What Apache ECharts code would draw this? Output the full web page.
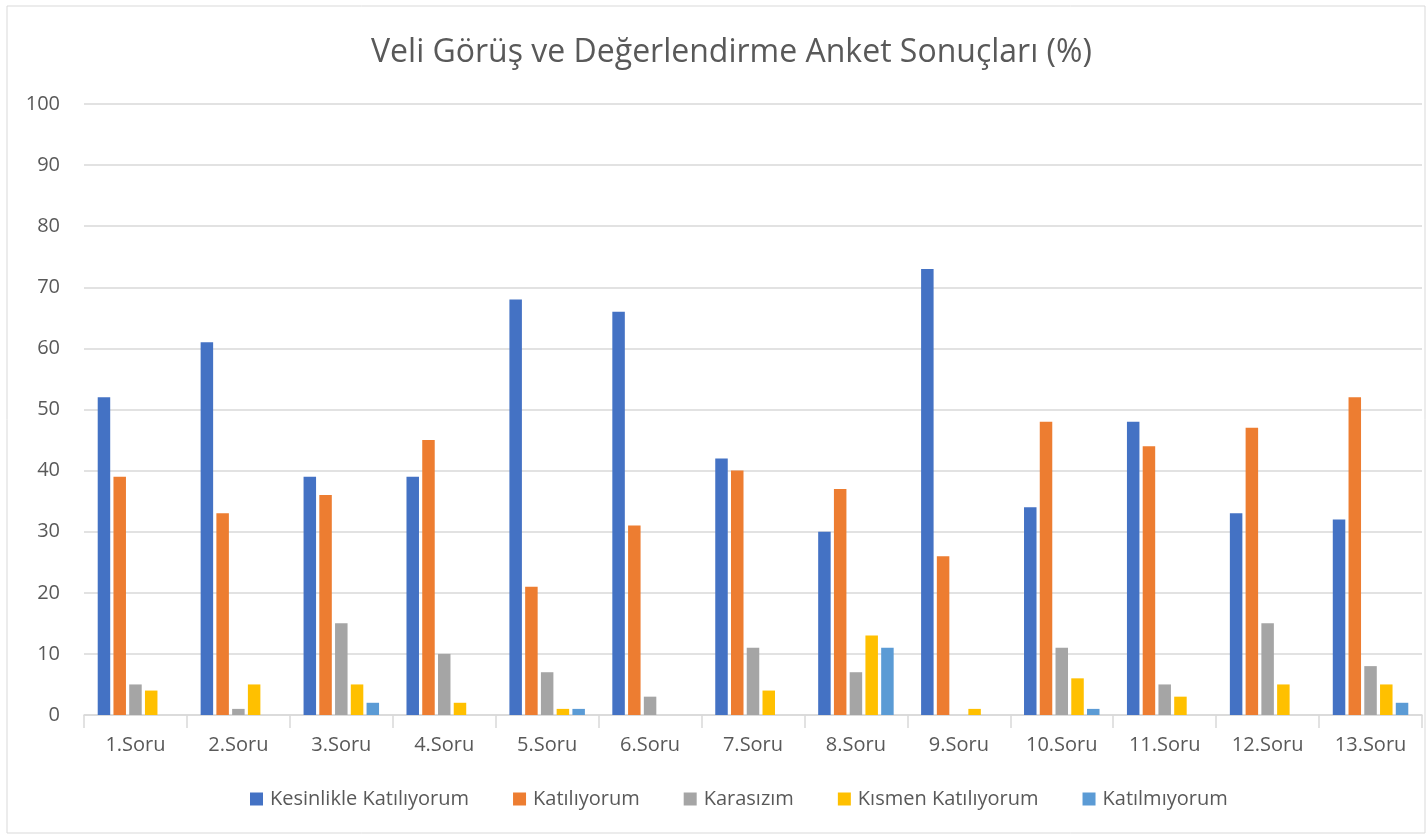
<!DOCTYPE html>
<html><head><meta charset="utf-8">
<script src="https://cdn.jsdelivr.net/npm/echarts@6/dist/echarts.min.js"></script>
<style>html,body{margin:0;padding:0;background:#fff}#c{width:1428px;height:836px}</style>
</head><body><div id="c"></div>
<script>
const categories = ['1.Soru','2.Soru','3.Soru','4.Soru','5.Soru','6.Soru','7.Soru','8.Soru','9.Soru','10.Soru','11.Soru','12.Soru','13.Soru'];
const kesinlikle = [52,61,39,39,68,66,42,30,73,34,48,33,32];
const katiliyorum = [39,33,36,45,21,31,40,37,26,48,44,47,52];
const karasizim = [5,1,15,10,7,3,11,7,0,11,5,15,8];
const kismen = [4,5,5,2,1,0,4,13,1,6,3,5,5];
const katilmiyorum = [0,0,2,0,1,0,0,11,0,1,0,0,2];
const seriesNames = ['Kesinlikle Katılıyorum','Katılıyorum','Karasızım','Kısmen Katılıyorum','Katılmıyorum'];
const colors = ['#4472C4','#ED7D31','#A5A5A5','#FFC000','#5B9BD5'];
const yTicks = {min:0, max:100, interval:10};

const data = [kesinlikle, katiliyorum, karasizim, kismen, katilmiyorum];
const font = 'Open Sans, Noto Sans, sans-serif';
const chart = echarts.init(document.getElementById('c'));
chart.setOption({
  animation:false,
  color: colors,
  graphic:[{type:'rect', shape:{x:7,y:6,width:1418,height:827}, style:{fill:'none', stroke:'#D9D9D9', lineWidth:1}}],
  title:{text:'Veli Görüş ve Değerlendirme Anket Sonuçları (%)', left:366, top:32,
    textStyle:{fontFamily:font, fontSize:32, fontWeight:'normal', color:'#595959'}},
  legend:{bottom:22, left:245, itemWidth:13, itemHeight:13, itemGap:44, icon:'rect',
    textStyle:{fontFamily:font, fontSize:20, color:'#595959', padding:[0,0,0,2]}},
  grid:{left:84, right:6, top:104, bottom:121, containLabel:false},
  xAxis:{type:'category', data:categories,
    axisLine:{lineStyle:{color:'#D9D9D9', width:1.5}},
    axisTick:{show:true, length:13, alignWithLabel:false, lineStyle:{color:'#D9D9D9', width:1.5}},
    axisLabel:{fontFamily:font, fontSize:20, color:'#595959', margin:20}},
  yAxis:{type:'value', min:yTicks.min, max:yTicks.max, interval:yTicks.interval,
    axisLine:{show:false}, axisTick:{show:false},
    splitLine:{lineStyle:{color:'#D9D9D9', width:1.5}},
    axisLabel:{fontFamily:font, fontSize:20, color:'#595959', margin:24}},
  series: seriesNames.map((n,i)=>({name:n, type:'bar', data:data[i], barWidth:12.5, barGap:'26%', barCategoryGap:'24%'}))
});
</script></body></html>
